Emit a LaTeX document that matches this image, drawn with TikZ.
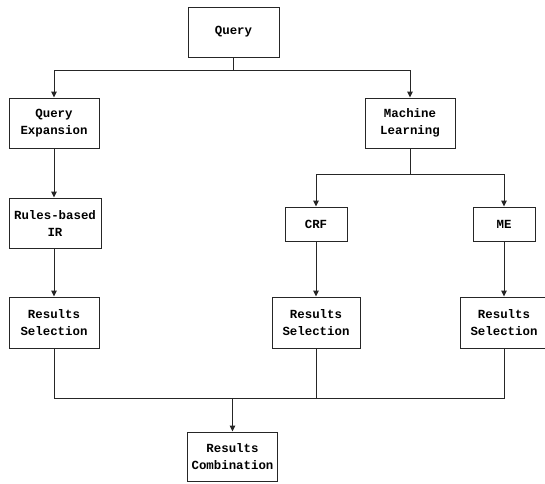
\documentclass[tikz,border=0pt]{standalone}
\usepackage{fontspec}
\setmonofont{Liberation Mono}
\usetikzlibrary{arrows.meta}
\begin{document}
\begin{tikzpicture}[x=0.75pt,y=-0.75pt,
  box/.style={draw=black!85, line width=0.7pt, align=center, inner sep=0pt,
    font=\ttfamily\bfseries\fontsize{9.3}{12.75}\selectfont},
  conn/.style={draw=black!85, line width=0.75pt},
  arr/.style={conn, -{Triangle[length=4.5pt,width=4.2pt]}}]
\useasboundingbox (0,0) rectangle (545,483);
\node[box, minimum width=68.25pt, minimum height=37.5pt] (q) at (233.5,32) {Query};
\node[box, minimum width=67.5pt, minimum height=37.5pt] (qe) at (54,123) {Query\\Expansion};
\node[box, minimum width=69pt, minimum height=37.5pt] (rb) at (55,223) {Rules-based\\IR};
\node[box, minimum width=67.5pt, minimum height=37.5pt] (ml) at (410,123) {Machine\\Learning};
\node[box, minimum width=46.5pt, minimum height=25.5pt] (crf) at (316,224) {CRF};
\node[box, minimum width=46.5pt, minimum height=25.5pt] (me) at (504,224) {ME};
\node[box, minimum width=67.5pt, minimum height=38.25pt] (rs1) at (54,322.5) {Results\\Selection};
\node[box, minimum width=66pt, minimum height=38.25pt] (rs2) at (316,322.5) {Results\\Selection};
\node[box, minimum width=66pt, minimum height=38.25pt] (rs3) at (504,322.5) {Results\\Selection};
\node[box, minimum width=67.5pt, minimum height=36.75pt] (rc) at (232.5,456.5) {Results\\Combination};
\coordinate (j1) at (233.5,70);
\coordinate (j2) at (410,174);
\coordinate (j3) at (232.5,398);
\draw[conn] (q) -- (j1);
\draw[arr] (j1) -| (qe);
\draw[arr] (j1) -| (ml);
\draw[conn] (ml) -- (j2);
\draw[arr] (j2) -| (crf);
\draw[arr] (j2) -| (me);
\draw[arr] (qe) -- (qe |- rb.north);
\draw[arr] (rb.south -| rs1) -- (rs1);
\draw[arr] (crf) -- (rs2);
\draw[arr] (me) -- (rs3);
\draw[conn] (rs1) |- (j3);
\draw[conn] (rs3) |- (j3);
\draw[conn] (rs2) -- (rs2 |- j3);
\draw[arr] (j3) -- (rc);
\end{tikzpicture}
\end{document}
